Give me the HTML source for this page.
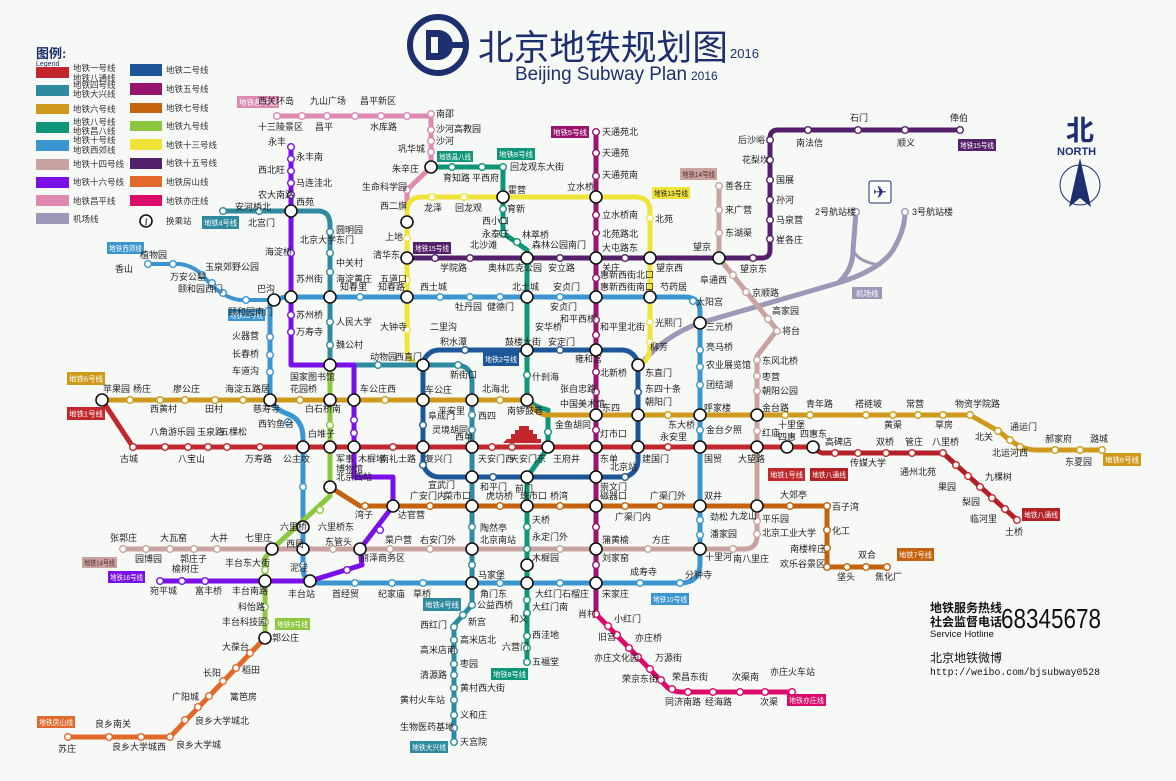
<!DOCTYPE html>
<html><head><meta charset="utf-8"><style>
html,body{margin:0;padding:0;background:#f7f9f7;}
svg{display:block;font-family:"Liberation Sans","Noto Sans CJK SC",sans-serif;}
.l{fill:none;stroke-linejoin:round;stroke-linecap:round;}
.t{font-size:9px;fill:#222;}
.lg{font-size:8.5px;fill:#333;}
.bx{font-size:7.5px;fill:#fff;}
.st circle{fill:#fff;stroke-width:1.4;}
.x circle{fill:#fff;stroke:#111;stroke-width:1.6;}
.x text{font-size:7px;font-weight:bold;fill:#111;text-anchor:middle;}
</style></head><body>
<svg width="1176" height="781" viewBox="0 0 1176 781" xmlns="http://www.w3.org/2000/svg">
<rect width="1176" height="781" fill="#f7f9f7"/>

<!-- Title -->
<circle cx="438" cy="45" r="28" fill="none" stroke="#1d2f6e" stroke-width="6"/>
<path d="M426 30 h12 a15 15 0 0 1 0 30 h-12 z" fill="#1d2f6e"/>
<rect x="431" y="37" width="7" height="16" fill="#f7f9f7"/>
<rect x="441" y="42" width="22" height="6" fill="#1d2f6e"/>
<text x="478" y="60" font-size="35" fill="#1d2f6e" textLength="250" lengthAdjust="spacingAndGlyphs">北京地铁规划图</text>
<text x="730" y="58" font-size="13" fill="#1d2f6e">2016</text>
<text x="515" y="80" font-size="19" fill="#1d2f6e" textLength="172" lengthAdjust="spacingAndGlyphs">Beijing Subway Plan</text>
<text x="691" y="80" font-size="12" fill="#1d2f6e">2016</text>

<!-- Legend -->
<text x="36" y="58" font-size="13" font-weight="bold" fill="#1d2f6e">图例:</text>
<text x="36" y="66" font-size="7" fill="#1d2f6e">Legend</text>
<rect x="36" y="67" width="33" height="11" fill="#c1272d"/><text class="lg" x="73" y="71">地铁一号线</text><text class="lg" x="73" y="81">地铁八通线</text>
<rect x="36" y="85" width="33" height="11" fill="#2f8aa0"/><text class="lg" x="73" y="88">地铁四号线</text><text class="lg" x="73" y="97">地铁大兴线</text>
<rect x="36" y="104" width="33" height="10" fill="#cf9a1c"/><text class="lg" x="73" y="112">地铁六号线</text>
<rect x="36" y="122" width="33" height="11" fill="#0f9577"/><text class="lg" x="73" y="125">地铁八号线</text><text class="lg" x="73" y="134">地铁昌八线</text>
<rect x="36" y="140" width="33" height="11" fill="#3b95d1"/><text class="lg" x="73" y="143">地铁十号线</text><text class="lg" x="73" y="153">地铁西郊线</text>
<rect x="36" y="159" width="33" height="11" fill="#c9a39f"/><text class="lg" x="73" y="167">地铁十四号线</text>
<rect x="36" y="177" width="33" height="11" fill="#7a10e8"/><text class="lg" x="73" y="185">地铁十六号线</text>
<rect x="36" y="195" width="33" height="11" fill="#de88b2"/><text class="lg" x="73" y="204">地铁昌平线</text>
<rect x="36" y="213" width="33" height="11" fill="#9d98b8"/><text class="lg" x="73" y="222">机场线</text>
<rect x="130" y="64" width="32" height="12" fill="#1e5797"/><text class="lg" x="166" y="73">地铁二号线</text>
<rect x="130" y="83" width="32" height="12" fill="#99166f"/><text class="lg" x="166" y="92">地铁五号线</text>
<rect x="130" y="103" width="32" height="10" fill="#c4620d"/><text class="lg" x="166" y="111">地铁七号线</text>
<rect x="130" y="121" width="32" height="10" fill="#8dc63f"/><text class="lg" x="166" y="129">地铁九号线</text>
<rect x="130" y="139" width="32" height="11" fill="#f0e33a"/><text class="lg" x="166" y="148">地铁十三号线</text>
<rect x="130" y="158" width="32" height="11" fill="#55206b"/><text class="lg" x="166" y="166">地铁十五号线</text>
<rect x="130" y="176" width="32" height="11" fill="#e2692a"/><text class="lg" x="166" y="185">地铁房山线</text>
<rect x="130" y="195" width="32" height="11" fill="#dc0a68"/><text class="lg" x="166" y="204">地铁亦庄线</text>
<g class="x"><circle cx="146" cy="221" r="6"/><text x="146" y="224">ʃ</text></g><text class="lg" x="166" y="224">换乘站</text>

<!-- North -->
<text x="1066" y="140" font-size="28" fill="#1d2f6e" font-weight="bold">北</text>
<text x="1057" y="155" font-size="11" fill="#1d2f6e" font-weight="bold">NORTH</text>
<circle cx="1080" cy="185" r="20" fill="none" stroke="#1d2f6e" stroke-width="1"/>
<path d="M1080 158 L1091 207 L1080 198 L1069 207 Z" fill="#1d2f6e"/>
<rect x="869" y="181" width="22" height="22" rx="2" fill="#fff" stroke="#1d2f6e" stroke-width="1"/>
<text x="880" y="198" font-size="17" text-anchor="middle" fill="#1d2f6e">✈</text>

<!-- ===== LINES ===== -->
<path class="l" stroke="#9d98b8" stroke-width="5" d="M640 365 Q665 335 700 323 L838 283 Q880 270 893 250 Q905 230 905 212"/>
<path class="l" stroke="#9d98b8" stroke-width="5" d="M838 283 Q853 270 853 250 L856 212"/>
<path class="l" stroke="#9d98b8" stroke-width="3" d="M853 250 Q858 262 880 265"/>
<path class="l" stroke="#c9a39f" stroke-width="5" d="M719 186 V258 L777 330 L757 356 V536 Q757 549 744 549 H123"/>
<path class="l" stroke="#de88b2" stroke-width="5" d="M277 116 H431 V167 L407 190 V222"/>
<path class="l" stroke="#55206b" stroke-width="5" d="M407 258 H762 Q770 258 770 250 V138 Q770 130 778 130 H960"/>
<path class="l" stroke="#f0e33a" stroke-width="5" d="M407 222 V212 Q407 197 422 197 H635 Q650 197 650 212 V345 Q650 362 638 365 M407 222 V347 Q407 365 423 365"/>
<path class="l" stroke="#0f9577" stroke-width="5" d="M431 167 H503 V233 L527 250 V398 Q531 406 548 410 V448 L527 477 V662"/>
<path class="l" stroke="#99166f" stroke-width="5" d="M596 132 V614"/>
<path class="l" stroke="#dc0a68" stroke-width="5" d="M596 614 L668 688 Q674 692 682 692 H792"/>
<path class="l" stroke="#3b95d1" stroke-width="5" d="M273 300 L285 297 H685 Q700 297 700 312 V563 Q700 583 680 583 H318 Q303 583 303 568 V438 Q303 420 288 414 Q270 408 270 392 V300 L273 300"/>
<path class="l" stroke="#3b95d1" stroke-width="4" d="M148 264 H180 Q195 266 205 278 Q222 298 240 300 H273"/>
<rect x="423" y="350" width="215" height="127" rx="16" fill="none" stroke="#1e5797" stroke-width="5"/>
<path class="l" stroke="#2f8aa0" stroke-width="5" d="M223 211 H318 Q330 211 330 225 V365 H455 Q472 365 472 382 V605 L454 625 V742"/>
<path class="l" stroke="#8dc63f" stroke-width="5" d="M330 365 V496 L272 549 L265 558 V638"/>
<path class="l" stroke="#7a10e8" stroke-width="5" d="M291 147 V365 H354 V477 H393 V506 L360 549 L362 565 L310 581 H160"/>
<path class="l" stroke="#cf9a1c" stroke-width="5" d="M102 400 H527 Q536 415 548 415 H970 L1000 432 Q1020 450 1035 450 H1102"/>
<path class="l" stroke="#c1272d" stroke-width="5" d="M102 400 L133 447 H813"/>
<path class="l" stroke="#b32127" stroke-width="5" d="M813 449 L822 453 H943 L1017 520"/>
<path class="l" stroke="#c4620d" stroke-width="5" d="M330 487 L360 506 H827 V567 H887"/>
<path class="l" stroke="#e2692a" stroke-width="5" d="M265 638 L170 737 H68"/>

<path d="M503 443 h38 v-4 h-4 v-5 h-4 v-4 h-4 v-4 h-10 v4 h-4 v4 h-4 v5 h-4 z" fill="#c1272d"/>

<!-- ===== STATIONS ===== -->
<g class="st">
<g stroke="#de88b2"><circle cx="277" cy="116" r="3.3"/><circle cx="302" cy="116" r="3.3"/><circle cx="327" cy="116" r="3.3"/><circle cx="355" cy="116" r="3.3"/><circle cx="381" cy="116" r="3.3"/><circle cx="407" cy="116" r="3.3"/><circle cx="431" cy="114" r="3.3"/><circle cx="431" cy="130" r="3.3"/><circle cx="431" cy="141" r="3.3"/><circle cx="431" cy="152" r="3.3"/><circle cx="407" cy="190" r="3.3"/></g>
<g stroke="#0f9577"><circle cx="452" cy="167" r="3.3"/><circle cx="482" cy="167" r="3.3"/><circle cx="503" cy="167" r="3.3"/><circle cx="503" cy="209" r="3.3"/><circle cx="503" cy="221" r="3.3"/><circle cx="503" cy="233" r="3.3"/><circle cx="517" cy="242" r="3.3"/><circle cx="527" cy="375" r="3.3"/><circle cx="548" cy="432" r="3.3"/><circle cx="527" cy="527" r="3.3"/><circle cx="527" cy="549" r="3.3"/><circle cx="527" cy="600" r="3.3"/><circle cx="527" cy="613" r="3.3"/><circle cx="527" cy="636" r="3.3"/><circle cx="527" cy="648" r="3.3"/><circle cx="527" cy="662" r="3.3"/></g>
<g stroke="#f0e33a"><circle cx="432" cy="197" r="3.3"/><circle cx="464" cy="197" r="3.3"/><circle cx="650" cy="218" r="3.3"/><circle cx="650" cy="322" r="3.3"/><circle cx="650" cy="342" r="3.3"/><circle cx="407" cy="238" r="3.3"/><circle cx="407" cy="280" r="3.3"/><circle cx="407" cy="330" r="3.3"/></g>
<g stroke="#99166f"><circle cx="596" cy="132" r="3.3"/><circle cx="596" cy="153" r="3.3"/><circle cx="596" cy="176" r="3.3"/><circle cx="596" cy="215" r="3.3"/><circle cx="596" cy="233" r="3.3"/><circle cx="596" cy="278" r="3.3"/><circle cx="596" cy="320" r="3.3"/><circle cx="596" cy="335" r="3.3"/><circle cx="596" cy="372" r="3.3"/><circle cx="596" cy="392" r="3.3"/><circle cx="596" cy="430" r="3.3"/><circle cx="596" cy="527" r="3.3"/><circle cx="596" cy="565" r="3.3"/></g>
<g stroke="#dc0a68"><circle cx="596" cy="614" r="3.3"/><circle cx="608" cy="626" r="3.3"/><circle cx="617" cy="635" r="3.3"/><circle cx="629" cy="648" r="3.3"/><circle cx="638" cy="657" r="3.3"/><circle cx="650" cy="669" r="3.3"/><circle cx="661" cy="680" r="3.3"/><circle cx="672" cy="689" r="3.3"/><circle cx="688" cy="692" r="3.3"/><circle cx="713" cy="692" r="3.3"/><circle cx="740" cy="692" r="3.3"/><circle cx="765" cy="692" r="3.3"/><circle cx="792" cy="692" r="3.3"/></g>
<g stroke="#55206b"><circle cx="435" cy="258" r="3.3"/><circle cx="470" cy="258" r="3.3"/><circle cx="560" cy="258" r="3.3"/><circle cx="625" cy="258" r="3.3"/><circle cx="753" cy="258" r="3.3"/><circle cx="770" cy="239" r="3.3"/><circle cx="770" cy="220" r="3.3"/><circle cx="770" cy="200" r="3.3"/><circle cx="770" cy="180" r="3.3"/><circle cx="770" cy="160" r="3.3"/><circle cx="770" cy="140" r="3.3"/><circle cx="808" cy="130" r="3.3"/><circle cx="858" cy="130" r="3.3"/><circle cx="905" cy="130" r="3.3"/><circle cx="960" cy="130" r="3.3"/></g>
<g stroke="#c9a39f"><circle cx="719" cy="186" r="3.3"/><circle cx="719" cy="210" r="3.3"/><circle cx="719" cy="233" r="3.3"/><circle cx="733" cy="275" r="3.3"/><circle cx="746" cy="292" r="3.3"/><circle cx="768" cy="319" r="3.3"/><circle cx="777" cy="331" r="3.3"/><circle cx="757" cy="360" r="3.3"/><circle cx="757" cy="376" r="3.3"/><circle cx="757" cy="391" r="3.3"/><circle cx="757" cy="431" r="3.3"/><circle cx="757" cy="521" r="3.3"/><circle cx="757" cy="534" r="3.3"/><circle cx="733" cy="549" r="3.3"/><circle cx="648" cy="549" r="3.3"/><circle cx="560" cy="549" r="3.3"/><circle cx="430" cy="549" r="3.3"/><circle cx="390" cy="549" r="3.3"/><circle cx="333" cy="549" r="3.3"/><circle cx="123" cy="549" r="3.3"/><circle cx="146" cy="549" r="3.3"/><circle cx="170" cy="549" r="3.3"/><circle cx="194" cy="549" r="3.3"/><circle cx="217" cy="549" r="3.3"/></g>
<g stroke="#3b95d1"><circle cx="148" cy="264" r="3.3"/><circle cx="173" cy="264" r="3.3"/><circle cx="202" cy="275" r="3.3"/><circle cx="212" cy="283" r="3.3"/><circle cx="223" cy="293" r="3.3"/><circle cx="246" cy="300" r="3.3"/><circle cx="270" cy="337" r="3.3"/><circle cx="270" cy="355" r="3.3"/><circle cx="270" cy="372" r="3.3"/><circle cx="288" cy="422" r="3.3"/><circle cx="303" cy="487" r="3.3"/><circle cx="303" cy="565" r="3.3"/><circle cx="355" cy="583" r="3.3"/><circle cx="392" cy="583" r="3.3"/><circle cx="423" cy="583" r="3.3"/><circle cx="500" cy="583" r="3.3"/><circle cx="560" cy="583" r="3.3"/><circle cx="640" cy="583" r="3.3"/><circle cx="680" cy="583" r="3.3"/><circle cx="700" cy="520" r="3.3"/><circle cx="700" cy="535" r="3.3"/><circle cx="700" cy="430" r="3.3"/><circle cx="700" cy="385" r="3.3"/><circle cx="700" cy="367" r="3.3"/><circle cx="700" cy="350" r="3.3"/><circle cx="693" cy="301" r="3.3"/><circle cx="560" cy="297" r="3.3"/><circle cx="500" cy="297" r="3.3"/><circle cx="470" cy="297" r="3.3"/><circle cx="440" cy="297" r="3.3"/><circle cx="360" cy="297" r="3.3"/></g>
<g stroke="#1e5797"><circle cx="465" cy="350" r="3.3"/><circle cx="560" cy="350" r="3.3"/><circle cx="423" cy="425" r="3.3"/><circle cx="423" cy="465" r="3.3"/><circle cx="493" cy="477" r="3.3"/><circle cx="625" cy="477" r="3.3"/><circle cx="638" cy="392" r="3.3"/></g>
<g stroke="#2f8aa0"><circle cx="223" cy="211" r="3.3"/><circle cx="259" cy="211" r="3.3"/><circle cx="330" cy="232" r="3.3"/><circle cx="330" cy="253" r="3.3"/><circle cx="330" cy="272" r="3.3"/><circle cx="330" cy="322" r="3.3"/><circle cx="330" cy="345" r="3.3"/><circle cx="378" cy="365" r="3.3"/><circle cx="458" cy="365" r="3.3"/><circle cx="472" cy="415" r="3.3"/><circle cx="472" cy="430" r="3.3"/><circle cx="472" cy="527" r="3.3"/><circle cx="472" cy="565" r="3.3"/><circle cx="472" cy="605" r="3.3"/><circle cx="463" cy="615" r="3.3"/><circle cx="454" cy="627" r="3.3"/><circle cx="454" cy="640" r="3.3"/><circle cx="454" cy="651" r="3.3"/><circle cx="454" cy="664" r="3.3"/><circle cx="454" cy="675" r="3.3"/><circle cx="454" cy="688" r="3.3"/><circle cx="454" cy="700" r="3.3"/><circle cx="454" cy="715" r="3.3"/><circle cx="454" cy="728" r="3.3"/><circle cx="454" cy="742" r="3.3"/></g>
<g stroke="#8dc63f"><circle cx="330" cy="425" r="3.3"/><circle cx="320" cy="510" r="3.3"/><circle cx="265" cy="570" r="3.3"/><circle cx="265" cy="607" r="3.3"/><circle cx="265" cy="622" r="3.3"/></g>
<g stroke="#7a10e8"><circle cx="291" cy="147" r="3.3"/><circle cx="291" cy="159" r="3.3"/><circle cx="291" cy="171" r="3.3"/><circle cx="291" cy="183" r="3.3"/><circle cx="291" cy="195" r="3.3"/><circle cx="291" cy="253" r="3.3"/><circle cx="291" cy="315" r="3.3"/><circle cx="291" cy="332" r="3.3"/><circle cx="354" cy="420" r="3.3"/><circle cx="354" cy="433" r="3.3"/><circle cx="380" cy="530" r="3.3"/><circle cx="347" cy="570" r="3.3"/><circle cx="160" cy="581" r="3.3"/><circle cx="182" cy="581" r="3.3"/><circle cx="205" cy="581" r="3.3"/></g>
<g stroke="#cf9a1c"><circle cx="130" cy="400" r="3.3"/><circle cx="160" cy="400" r="3.3"/><circle cx="185" cy="400" r="3.3"/><circle cx="215" cy="400" r="3.3"/><circle cx="243" cy="400" r="3.3"/><circle cx="300" cy="400" r="3.3"/><circle cx="385" cy="400" r="3.3"/><circle cx="500" cy="400" r="3.3"/><circle cx="668" cy="415" r="3.3"/><circle cx="785" cy="415" r="3.3"/><circle cx="810" cy="415" r="3.3"/><circle cx="866" cy="415" r="3.3"/><circle cx="893" cy="415" r="3.3"/><circle cx="918" cy="415" r="3.3"/><circle cx="943" cy="415" r="3.3"/><circle cx="970" cy="415" r="3.3"/><circle cx="998" cy="431" r="3.3"/><circle cx="1010" cy="440" r="3.3"/><circle cx="1020" cy="447" r="3.3"/><circle cx="1055" cy="450" r="3.3"/><circle cx="1080" cy="450" r="3.3"/><circle cx="1102" cy="450" r="3.3"/></g>
<g stroke="#c1272d"><circle cx="133" cy="447" r="3.3"/><circle cx="165" cy="447" r="3.3"/><circle cx="188" cy="447" r="3.3"/><circle cx="208" cy="447" r="3.3"/><circle cx="227" cy="447" r="3.3"/><circle cx="260" cy="447" r="3.3"/><circle cx="393" cy="447" r="3.3"/><circle cx="492" cy="447" r="3.3"/><circle cx="512" cy="447" r="3.3"/><circle cx="668" cy="447" r="3.3"/><circle cx="835" cy="453" r="3.3"/><circle cx="858" cy="453" r="3.3"/><circle cx="886" cy="453" r="3.3"/><circle cx="912" cy="453" r="3.3"/><circle cx="943" cy="453" r="3.3"/><circle cx="956" cy="465" r="3.3"/><circle cx="968" cy="476" r="3.3"/><circle cx="980" cy="487" r="3.3"/><circle cx="992" cy="498" r="3.3"/><circle cx="1005" cy="509" r="3.3"/><circle cx="1017" cy="520" r="3.3"/></g>
<g stroke="#c4620d"><circle cx="365" cy="506" r="3.3"/><circle cx="430" cy="506" r="3.3"/><circle cx="500" cy="506" r="3.3"/><circle cx="560" cy="506" r="3.3"/><circle cx="625" cy="506" r="3.3"/><circle cx="660" cy="506" r="3.3"/><circle cx="790" cy="506" r="3.3"/><circle cx="827" cy="506" r="3.3"/><circle cx="827" cy="530" r="3.3"/><circle cx="827" cy="548" r="3.3"/><circle cx="827" cy="567" r="3.3"/><circle cx="847" cy="567" r="3.3"/><circle cx="866" cy="567" r="3.3"/><circle cx="887" cy="567" r="3.3"/></g>
<g stroke="#e2692a"><circle cx="250" cy="653" r="3.3"/><circle cx="236" cy="668" r="3.3"/><circle cx="223" cy="681" r="3.3"/><circle cx="209" cy="696" r="3.3"/><circle cx="198" cy="707" r="3.3"/><circle cx="185" cy="720" r="3.3"/><circle cx="170" cy="737" r="3.3"/><circle cx="141" cy="737" r="3.3"/><circle cx="109" cy="737" r="3.3"/><circle cx="68" cy="737" r="3.3"/></g>
<g stroke="#9d98b8"><circle cx="856" cy="212" r="3.3"/><circle cx="905" cy="212" r="3.3"/></g>
</g>

<g class="x">
<circle cx="431" cy="167" r="6"/><circle cx="503" cy="197" r="6"/><circle cx="596" cy="197" r="6"/><circle cx="407" cy="222" r="6"/><circle cx="291" cy="211" r="6"/>
<circle cx="407" cy="258" r="6"/><circle cx="527" cy="258" r="6"/><circle cx="596" cy="258" r="6"/><circle cx="650" cy="258" r="6"/><circle cx="719" cy="258" r="6"/>
<circle cx="274" cy="300" r="6"/><circle cx="291" cy="297" r="6"/><circle cx="330" cy="297" r="6"/><circle cx="407" cy="297" r="6"/><circle cx="527" cy="297" r="6"/><circle cx="596" cy="297" r="6"/><circle cx="650" cy="297" r="6"/>
<circle cx="700" cy="323" r="6"/><circle cx="330" cy="365" r="6"/><circle cx="423" cy="365" r="6"/><circle cx="638" cy="365" r="6"/><circle cx="527" cy="350" r="6"/><circle cx="596" cy="350" r="6"/>
<circle cx="102" cy="400" r="6"/><circle cx="270" cy="400" r="6"/><circle cx="330" cy="400" r="6"/><circle cx="354" cy="400" r="6"/><circle cx="423" cy="400" r="6"/><circle cx="472" cy="400" r="6"/><circle cx="527" cy="400" r="6"/>
<circle cx="596" cy="415" r="6"/><circle cx="638" cy="415" r="6"/><circle cx="700" cy="415" r="6"/><circle cx="757" cy="415" r="6"/>
<circle cx="303" cy="447" r="6"/><circle cx="330" cy="447" r="6"/><circle cx="354" cy="447" r="6"/><circle cx="423" cy="447" r="6"/><circle cx="472" cy="447" r="6"/><circle cx="548" cy="447" r="6"/><circle cx="596" cy="447" r="6"/><circle cx="638" cy="447" r="6"/><circle cx="700" cy="447" r="6"/><circle cx="757" cy="447" r="6"/><circle cx="787" cy="447" r="6"/><circle cx="813" cy="447" r="6"/>
<circle cx="472" cy="477" r="6"/><circle cx="527" cy="477" r="6"/><circle cx="596" cy="477" r="6"/><circle cx="330" cy="487" r="6"/>
<circle cx="393" cy="506" r="6"/><circle cx="472" cy="506" r="6"/><circle cx="527" cy="506" r="6"/><circle cx="596" cy="506" r="6"/><circle cx="700" cy="506" r="6"/><circle cx="757" cy="506" r="6"/>
<circle cx="303" cy="527" r="6"/><circle cx="272" cy="549" r="6"/><circle cx="303" cy="549" r="6"/><circle cx="360" cy="549" r="6"/><circle cx="472" cy="549" r="6"/><circle cx="527" cy="565" r="6"/><circle cx="596" cy="549" r="6"/><circle cx="700" cy="549" r="6"/>
<circle cx="265" cy="581" r="6"/><circle cx="310" cy="581" r="6"/><circle cx="472" cy="583" r="6"/><circle cx="527" cy="583" r="6"/><circle cx="596" cy="583" r="6"/><circle cx="265" cy="638" r="6"/>
</g>

<!-- ===== LINE LABEL BOXES ===== -->
<g class="bx">
<rect x="237" y="96" width="42" height="12" fill="#de88b2"/><text x="239" y="105" textLength="38" lengthAdjust="spacingAndGlyphs">地铁昌平线</text>
<rect x="437" y="151" width="36" height="11" fill="#0f9577"/><text x="439" y="159.5" textLength="32" lengthAdjust="spacingAndGlyphs">地铁昌八线</text>
<rect x="497" y="148" width="38" height="12" fill="#0f9577"/><text x="499" y="157" textLength="34" lengthAdjust="spacingAndGlyphs">地铁8号线</text>
<rect x="551" y="126" width="38" height="12" fill="#99166f"/><text x="553" y="135" textLength="34" lengthAdjust="spacingAndGlyphs">地铁5号线</text>
<rect x="680" y="168" width="37" height="12" fill="#c9a39f"/><text x="682" y="177" fill="#5a2a2a" textLength="33" lengthAdjust="spacingAndGlyphs">地铁14号线</text>
<rect x="652" y="187" width="38" height="12" fill="#f0e33a"/><text x="654" y="196" fill="#222" textLength="34" lengthAdjust="spacingAndGlyphs">地铁13号线</text>
<rect x="413" y="242" width="38" height="12" fill="#55206b"/><text x="415" y="251" textLength="34" lengthAdjust="spacingAndGlyphs">地铁15号线</text>
<rect x="958" y="139" width="38" height="12" fill="#55206b"/><text x="960" y="148" textLength="34" lengthAdjust="spacingAndGlyphs">地铁15号线</text>
<rect x="202" y="216" width="37" height="13" fill="#2f8aa0"/><text x="204" y="225.5" textLength="33" lengthAdjust="spacingAndGlyphs">地铁4号线</text>
<rect x="107" y="242" width="37" height="12" fill="#3b95d1"/><text x="109" y="251" textLength="33" lengthAdjust="spacingAndGlyphs">地铁西郊线</text>
<rect x="228" y="309" width="37" height="12" fill="#3b95d1"/><text x="230" y="318" textLength="33" lengthAdjust="spacingAndGlyphs">地铁10号线</text>
<rect x="67" y="372" width="38" height="13" fill="#cf9a1c"/><text x="69" y="381.5" textLength="34" lengthAdjust="spacingAndGlyphs">地铁6号线</text>
<rect x="67" y="407" width="38" height="13" fill="#c1272d"/><text x="69" y="416.5" textLength="34" lengthAdjust="spacingAndGlyphs">地铁1号线</text>
<rect x="483" y="352" width="36" height="14" fill="#1e5797"/><text x="485" y="362" textLength="32" lengthAdjust="spacingAndGlyphs">地铁2号线</text>
<rect x="82" y="557" width="35" height="11" fill="#c9a39f"/><text x="84" y="565.5" fill="#5a2a2a" textLength="31" lengthAdjust="spacingAndGlyphs">地铁14号线</text>
<rect x="108" y="571" width="37" height="12" fill="#7a10e8"/><text x="110" y="580" textLength="33" lengthAdjust="spacingAndGlyphs">地铁16号线</text>
<rect x="275" y="618" width="35" height="12" fill="#8dc63f"/><text x="277" y="627" textLength="31" lengthAdjust="spacingAndGlyphs">地铁9号线</text>
<rect x="37" y="716" width="38" height="12" fill="#e2692a"/><text x="39" y="725" textLength="34" lengthAdjust="spacingAndGlyphs">地铁房山线</text>
<rect x="423" y="598" width="38" height="13" fill="#2f8aa0"/><text x="425" y="607.5" textLength="34" lengthAdjust="spacingAndGlyphs">地铁4号线</text>
<rect x="410" y="741" width="38" height="12" fill="#2f8aa0"/><text x="412" y="750" textLength="34" lengthAdjust="spacingAndGlyphs">地铁大兴线</text>
<rect x="491" y="668" width="37" height="12" fill="#0f9577"/><text x="493" y="677" textLength="33" lengthAdjust="spacingAndGlyphs">地铁8号线</text>
<rect x="651" y="593" width="38" height="12" fill="#3b95d1"/><text x="653" y="602" textLength="34" lengthAdjust="spacingAndGlyphs">地铁10号线</text>
<rect x="787" y="694" width="39" height="12" fill="#dc0a68"/><text x="789" y="703" textLength="35" lengthAdjust="spacingAndGlyphs">地铁亦庄线</text>
<rect x="897" y="548" width="37" height="13" fill="#c4620d"/><text x="899" y="557.5" textLength="33" lengthAdjust="spacingAndGlyphs">地铁7号线</text>
<rect x="768" y="468" width="37" height="13" fill="#c1272d"/><text x="770" y="477.5" textLength="33" lengthAdjust="spacingAndGlyphs">地铁1号线</text>
<rect x="810" y="468" width="38" height="13" fill="#b32127"/><text x="812" y="477.5" textLength="34" lengthAdjust="spacingAndGlyphs">地铁八通线</text>
<rect x="1022" y="508" width="38" height="13" fill="#b32127"/><text x="1024" y="517.5" textLength="34" lengthAdjust="spacingAndGlyphs">地铁八通线</text>
<rect x="1103" y="453" width="38" height="13" fill="#cf9a1c"/><text x="1105" y="462.5" textLength="34" lengthAdjust="spacingAndGlyphs">地铁6号线</text>
<rect x="852" y="287" width="30" height="12" fill="#9d98b8"/><text x="856" y="296">机场线</text>
</g>

<!-- ===== STATION LABELS ===== -->
<g class="t">
<text x="258" y="104">西关环岛</text><text x="310" y="104">九山广场</text><text x="360" y="104">昌平新区</text>
<text x="258" y="130">十三陵景区</text><text x="315" y="130">昌平</text><text x="370" y="130">水库路</text>
<text x="436" y="117">南邵</text><text x="436" y="132">沙河高教园</text><text x="436" y="144">沙河</text><text x="398" y="152">巩华城</text><text x="392" y="172">朱辛庄</text><text x="362" y="190">生命科学园</text>
<text x="443" y="181">育知路</text><text x="472" y="181">平西府</text><text x="510" y="170">回龙观东大街</text><text x="508" y="193">霍营</text>
<text x="424" y="211">龙泽</text><text x="455" y="211">回龙观</text><text x="507" y="212">育新</text><text x="482" y="224">西小口</text><text x="482" y="237">永泰庄</text><text x="522" y="238">林萃桥</text><text x="532" y="248">森林公园南门</text>
<text x="602" y="135">天通苑北</text><text x="602" y="156">天通苑</text><text x="602" y="178">天通苑南</text><text x="567" y="190">立水桥</text><text x="602" y="218">立水桥南</text><text x="602" y="237">北苑路北</text><text x="602" y="251">大屯路东</text><text x="655" y="222">北苑</text>
<text x="380" y="209">西二旗</text><text x="385" y="240">上地</text><text x="373" y="258">清华东</text><text x="380" y="282">五道口</text>
<text x="440" y="271">学院路</text><text x="470" y="248">北沙滩</text><text x="488" y="271">奥林匹克公园</text><text x="548" y="271">安立路</text><text x="602" y="271">关庄</text><text x="656" y="271">望京西</text><text x="693" y="250">望京</text><text x="740" y="272">望京东</text>
<text x="650" y="350">柳芳</text><text x="655" y="326">光熙门</text><text x="660" y="290">芍药居</text>
<text x="725" y="189">善各庄</text><text x="725" y="213">来广营</text><text x="725" y="236">东湖渠</text>
<text x="738" y="143">后沙峪</text><text x="742" y="163">花梨坎</text><text x="776" y="183">国展</text><text x="776" y="203">孙河</text><text x="776" y="223">马泉营</text><text x="776" y="243">崔各庄</text>
<text x="796" y="146">南法信</text><text x="850" y="121">石门</text><text x="897" y="146">顺义</text><text x="950" y="121">俸伯</text>
<text x="815" y="215">2号航站楼</text><text x="912" y="215">3号航站楼</text>
<text x="700" y="283">阜通西</text><text x="752" y="296">京顺路</text><text x="772" y="314">高家园</text><text x="782" y="334">将台</text>
<text x="706" y="330">三元桥</text><text x="706" y="350">亮马桥</text><text x="706" y="368">农业展览馆</text><text x="706" y="388">团结湖</text><text x="696" y="305">太阳宫</text>
<text x="762" y="364">东风北桥</text><text x="762" y="380">枣营</text><text x="762" y="394">朝阳公园</text>
<text x="235" y="210">安河桥北</text><text x="248" y="226">北宫门</text><text x="296" y="205">西苑</text>
<text x="268" y="145">永丰</text><text x="296" y="160">永丰南</text><text x="258" y="173">西北旺</text><text x="296" y="186">马连洼北</text><text x="258" y="198">农大南路</text>
<text x="265" y="255">海淀桥</text><text x="336" y="233">圆明园</text><text x="300" y="243">北京大学东门</text><text x="336" y="266">中关村</text><text x="336" y="282">海淀黄庄</text><text x="296" y="282">苏州街</text>
<text x="340" y="290">知春里</text><text x="378" y="290">知春路</text><text x="420" y="290">西土城</text><text x="455" y="310">牡丹园</text><text x="487" y="310">健德门</text><text x="512" y="290">北土城</text><text x="550" y="310">安贞门</text><text x="600" y="290">惠新西街南口</text>
<text x="296" y="318">苏州桥</text><text x="296" y="335">万寿寺</text><text x="336" y="325">人民大学</text><text x="336" y="348">魏公村</text><text x="380" y="330">大钟寺</text><text x="430" y="330">二里沟</text>
<text x="140" y="258">植物园</text><text x="115" y="272">香山</text><text x="170" y="280">万安公墓</text><text x="205" y="270">玉泉郊野公园</text><text x="178" y="292">颐和园西门</text><text x="228" y="315">颐和园南门</text><text x="257" y="292">巴沟</text>
<text x="232" y="339">火器营</text><text x="232" y="357">长春桥</text><text x="232" y="374">车道沟</text>
<text x="290" y="380">国家图书馆</text><text x="370" y="360">动物园</text><text x="395" y="360">西直门</text><text x="450" y="378">新街口</text>
<text x="440" y="345">积水潭</text><text x="505" y="345">鼓楼大街</text><text x="548" y="345">安定门</text><text x="575" y="362">雍和宫</text><text x="600" y="376">北新桥</text><text x="560" y="392">张自忠路</text><text x="532" y="380">什刹海</text>
<text x="535" y="330">安华桥</text><text x="560" y="322">和平西桥</text><text x="600" y="330">和平里北街</text><text x="553" y="290">安贞门</text><text x="600" y="278">惠新西街北口</text>
<text x="645" y="376">东直门</text><text x="645" y="392">东四十条</text><text x="645" y="405">朝阳门</text><text x="668" y="428">东大桥</text>
<text x="103" y="392">苹果园</text><text x="133" y="392">杨庄</text><text x="150" y="412">西黄村</text><text x="173" y="392">廖公庄</text><text x="205" y="412">田村</text><text x="225" y="392">海淀五路居</text><text x="253" y="412">慈寿寺</text><text x="290" y="392">花园桥</text><text x="305" y="412">白石桥南</text><text x="360" y="392">车公庄西</text><text x="425" y="393">车公庄</text><text x="438" y="414">平安里</text><text x="482" y="392">北海北</text><text x="507" y="414">南锣鼓巷</text>
<text x="560" y="407">中国美术馆</text><text x="602" y="411">东四</text><text x="600" y="437">灯市口</text><text x="478" y="419">西四</text><text x="432" y="433">灵境胡同</text><text x="428" y="419">阜成门</text>
<text x="704" y="411">呼家楼</text><text x="762" y="411">金台路</text><text x="778" y="428">十里堡</text><text x="806" y="407">青年路</text><text x="855" y="407">褡裢坡</text><text x="884" y="428">黄渠</text><text x="906" y="407">常营</text><text x="935" y="428">草房</text><text x="955" y="407">物资学院路</text>
<text x="975" y="440">北关</text><text x="1010" y="430">通运门</text><text x="992" y="456">北运河西</text><text x="1045" y="442">郝家府</text><text x="1065" y="465">东夏园</text><text x="1090" y="442">潞城</text>
<text x="120" y="462">古城</text><text x="150" y="435">八角游乐园</text><text x="178" y="462">八宝山</text><text x="197" y="435">玉泉路</text><text x="220" y="435">五棵松</text><text x="245" y="462">万寿路</text><text x="283" y="462">公主坟</text><text x="258" y="427">西钓鱼台</text><text x="308" y="437">白堆子</text>
<text x="336" y="462">军事</text><text x="336" y="472">博物馆</text><text x="358" y="462">木樨地</text><text x="380" y="462">南礼士路</text><text x="425" y="462">复兴门</text><text x="455" y="440">西单</text>
<text x="478" y="462">天安门西</text><text x="510" y="462">天安门东</text><text x="553" y="462">王府井</text><text x="555" y="428">金鱼胡同</text><text x="600" y="462">东单</text><text x="642" y="462">建国门</text><text x="660" y="440">永安里</text><text x="704" y="462">国贸</text><text x="706" y="433">金台夕照</text>
<text x="738" y="462">大望路</text><text x="762" y="436">红庙</text><text x="778" y="440">四惠</text><text x="800" y="437">四惠东</text>
<text x="825" y="445">高碑店</text><text x="850" y="466">传媒大学</text><text x="876" y="445">双桥</text><text x="905" y="445">管庄</text><text x="932" y="445">八里桥</text><text x="900" y="475">通州北苑</text><text x="938" y="490">果园</text><text x="985" y="480">九棵树</text><text x="962" y="505">梨园</text><text x="970" y="522">临河里</text><text x="1005" y="535">土桥</text>
<text x="428" y="488">宣武门</text><text x="480" y="490">和平门</text><text x="515" y="492">前门</text><text x="600" y="490">崇文门</text><text x="610" y="470">北京站</text>
<text x="336" y="480">北京西站</text><text x="398" y="518">达官营</text><text x="355" y="518">湾子</text><text x="410" y="499">广安门内</text><text x="444" y="499">菜市口</text><text x="486" y="499">虎坊桥</text><text x="520" y="499">珠市口</text><text x="550" y="499">桥湾</text><text x="600" y="499">磁器口</text><text x="615" y="520">广渠门内</text><text x="650" y="499">广渠门外</text><text x="704" y="499">双井</text><text x="710" y="520">劲松</text><text x="710" y="537">潘家园</text>
<text x="730" y="519">九龙山</text><text x="762" y="522">平乐园</text><text x="762" y="536">北京工业大学</text><text x="780" y="498">大郊亭</text><text x="832" y="510">百子湾</text><text x="832" y="534">化工</text><text x="790" y="552">南楼梓庄</text><text x="780" y="567">欢乐谷景区</text><text x="837" y="580">垡头</text><text x="858" y="558">双合</text><text x="875" y="580">焦化厂</text>
<text x="280" y="530">六里桥</text><text x="318" y="530">六里桥东</text><text x="286" y="547">西局</text><text x="325" y="545">东管头</text><text x="360" y="561">丽泽商务区</text><text x="385" y="543">菜户营</text><text x="420" y="543">右安门外</text><text x="480" y="543">北京南站</text><text x="480" y="531">陶然亭</text><text x="532" y="523">天桥</text><text x="532" y="540">永定门外</text><text x="532" y="561">木樨园</text><text x="602" y="543">蒲黄榆</text><text x="602" y="561">刘家窑</text><text x="652" y="543">方庄</text><text x="705" y="560">十里河</text><text x="733" y="562">南八里庄</text>
<text x="110" y="541">张郭庄</text><text x="135" y="562">园博园</text><text x="160" y="541">大瓦窑</text><text x="180" y="562">郭庄子</text><text x="210" y="541">大井</text><text x="245" y="541">七里庄</text><text x="225" y="566">丰台东大街</text>
<text x="150" y="594">宛平城</text><text x="172" y="572">榆树庄</text><text x="195" y="594">富丰桥</text><text x="232" y="594">丰台南路</text><text x="288" y="597">丰台站</text><text x="290" y="571">泥洼</text><text x="332" y="597">首经贸</text><text x="378" y="597">纪家庙</text><text x="413" y="597">草桥</text><text x="478" y="578">马家堡</text><text x="480" y="597">角门东</text><text x="535" y="597">大红门</text><text x="562" y="597">石榴庄</text><text x="602" y="597">宋家庄</text><text x="630" y="575">成寿寺</text><text x="685" y="578">分钟寺</text>
<text x="238" y="610">科怡路</text><text x="222" y="625">丰台科技园</text><text x="272" y="641">郭公庄</text>
<text x="222" y="650">大葆台</text><text x="242" y="673">稻田</text><text x="203" y="676">长阳</text><text x="230" y="700">篱笆房</text><text x="172" y="700">广阳城</text><text x="195" y="724">良乡大学城北</text><text x="176" y="748">良乡大学城</text><text x="112" y="750">良乡大学城西</text><text x="95" y="727">良乡南关</text><text x="58" y="752">苏庄</text>
<text x="477" y="608">公益西桥</text><text x="468" y="625">新宫</text><text x="420" y="628">西红门</text><text x="460" y="643">高米店北</text><text x="420" y="653">高米店南</text><text x="460" y="667">枣园</text><text x="420" y="678">清源路</text><text x="460" y="691">黄村西大街</text><text x="400" y="703">黄村火车站</text><text x="460" y="718">义和庄</text><text x="400" y="730">生物医药基地</text><text x="460" y="745">天宫院</text>
<text x="532" y="610">大红门南</text><text x="510" y="622">和义</text><text x="532" y="638">西洼地</text><text x="502" y="650">六营门</text><text x="532" y="665">五福堂</text>
<text x="578" y="617">肖村</text><text x="614" y="622">小红门</text><text x="598" y="640">旧宫</text><text x="635" y="641">亦庄桥</text><text x="594" y="661">亦庄文化园</text><text x="655" y="661">万源街</text><text x="622" y="682">荣京东街</text><text x="672" y="680">荣昌东街</text><text x="665" y="705">同济南路</text><text x="705" y="705">经海路</text><text x="732" y="680">次渠南</text><text x="760" y="705">次渠</text><text x="770" y="675">亦庄火车站</text>
</g>

<!-- Hotline -->
<text x="930" y="612" font-size="12" font-weight="bold" fill="#111">地铁服务热线</text>
<text x="930" y="626" font-size="12" font-weight="bold" fill="#111">社会监督电话</text>
<text x="930" y="637" font-size="9.5" fill="#111">Service Hotline</text>
<text x="1001" y="628" font-size="28" fill="#111" textLength="100" lengthAdjust="spacingAndGlyphs">68345678</text>
<text x="930" y="662" font-size="12" fill="#111">北京地铁微博</text>
<text x="930" y="675" font-size="10" fill="#111" font-family="Liberation Mono, monospace" textLength="170" lengthAdjust="spacingAndGlyphs">http://weibo.com/bjsubway0528</text>
</svg>
</body></html>
